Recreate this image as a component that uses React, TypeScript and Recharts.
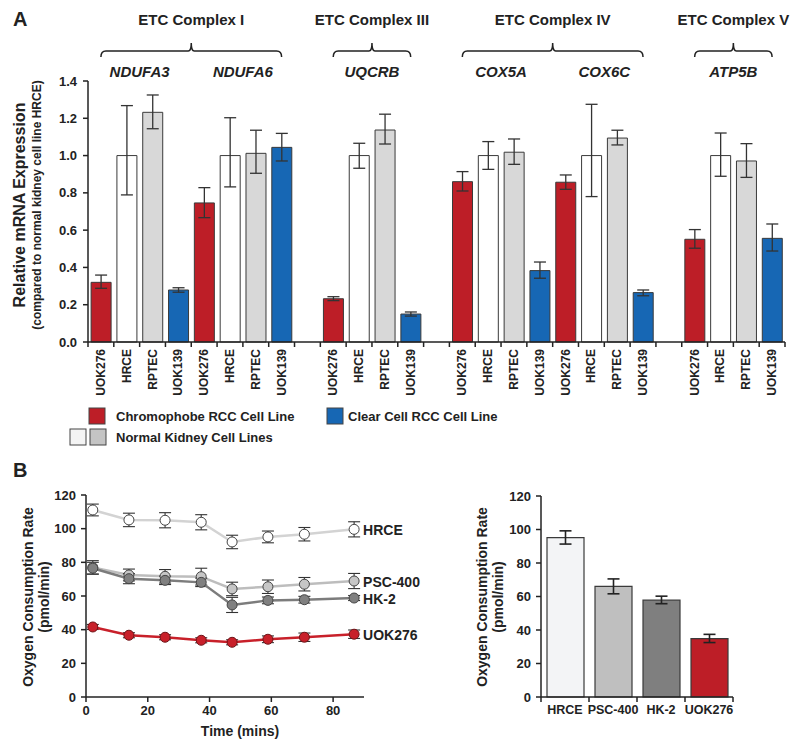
import React from "react";
import { Bar, BarChart, Cell, ErrorBar, Line, LineChart, XAxis, YAxis } from "recharts";

const FONT = "'Liberation Sans', Arial, Helvetica, sans-serif";
const INK = "#222";
const RED = "#bd1e27";
const BLUE = "#1767b4";
const LIGHT = "#d8d8d8";
const WHITE = "#ffffff";

// ---- Panel A: relative mRNA expression ----
const cellLines = ["UOK276", "HRCE", "RPTEC", "UOK139"];
const cellColors = [RED, WHITE, LIGHT, BLUE];
const genes = ["NDUFA3", "NDUFA6", "UQCRB", "COX5A", "COX6C", "ATP5B"];
const complexes = ["ETC Complex I", "ETC Complex III", "ETC Complex IV", "ETC Complex V"];
const genesPerComplex = [2, 1, 2, 1];

const uok276Mean = [0.32, 0.746, 0.232, 0.86, 0.857, 0.551];
const uok276Low = [0.288, 0.667, 0.222, 0.81, 0.819, 0.503];
const uok276High = [0.359, 0.828, 0.243, 0.914, 0.896, 0.603];
const hrceMean = [1.0, 1.0, 1.0, 1.0, 1.0, 1.0];
const hrceLow = [0.789, 0.832, 0.932, 0.926, 0.78, 0.889];
const hrceHigh = [1.268, 1.203, 1.066, 1.075, 1.275, 1.121];
const rptecMean = [1.232, 1.012, 1.137, 1.018, 1.094, 0.971];
const rptecLow = [1.144, 0.905, 1.062, 0.953, 1.057, 0.883];
const rptecHigh = [1.325, 1.136, 1.222, 1.089, 1.136, 1.064];
const uok139Mean = [0.279, 1.044, 0.15, 0.383, 0.265, 0.556];
const uok139Low = [0.267, 0.971, 0.139, 0.342, 0.248, 0.488];
const uok139High = [0.291, 1.119, 0.161, 0.429, 0.279, 0.633];

const exprTicks = [0, 0.2, 0.4, 0.6, 0.8, 1.0, 1.2, 1.4];

// ---- Panel B: oxygen consumption ----
const timeMins = [2.2, 13.9, 25.6, 37.3, 47.3, 58.9, 70.7, 86.8];
const hrceOcr = [111.1, 105.2, 105, 103.8, 92.1, 95.1, 96.7, 99.6];
const hrceOcrErr = [3.5, 4, 4.5, 4.5, 4, 3.5, 4, 4.5];
const pscOcr = [77, 72.5, 71.7, 71.5, 64.2, 65.5, 67, 68.9];
const pscOcrErr = [4, 3.5, 4, 5, 4, 4, 4, 4.5];
const hk2Ocr = [76.5, 70.3, 69.3, 68.1, 54.7, 57.4, 57.8, 58.8];
const hk2OcrErr = [3.5, 3, 2.5, 2.5, 4.5, 2, 2, 1.5];
const uokOcr = [41.6, 36.7, 35.5, 33.7, 32.5, 34.3, 35.5, 37.3];
const uokOcrErr = [1.5, 1.5, 1.5, 1.5, 1.5, 2, 2.5, 2.5];
const timeTicks = [0, 20, 40, 60, 80];
const ocrTicks = [0, 20, 40, 60, 80, 100, 120];

const basalLines = ["HRCE", "PSC-400", "HK-2", "UOK276"];
const basalMean = [95.2, 66.1, 57.8, 34.9];
const basalLow = [91.3, 61.6, 55.7, 32.5];
const basalHigh = [99.2, 70.5, 60.2, 37.4];
const basalColors = ["#f3f4f6", "#bfbfbf", "#7f7f7f", RED];

// table for panel A: one slot per bar, empty slot between complexes
const exprSeries = [
  [uok276Mean, uok276Low, uok276High],
  [hrceMean, hrceLow, hrceHigh],
  [rptecMean, rptecLow, rptecHigh],
  [uok139Mean, uok139Low, uok139High],
];
const exprData: any[] = [];
{
  let g = 0;
  genesPerComplex.forEach((n, ci) => {
    if (ci > 0) exprData.push({ name: `gap${ci}`, value: null, err: [0, 0], fill: "none" });
    for (let k = 0; k < n; k++, g++) {
      cellLines.forEach((line, li) => {
        const [m, lo, hi] = exprSeries[li];
        exprData.push({
          name: line,
          value: m[g],
          err: [m[g] - lo[g], hi[g] - m[g]],
          fill: cellColors[li],
        });
      });
    }
  });
}

const ocrData = timeMins.map((t, i) => ({
  t,
  hrce: hrceOcr[i],
  hrceErr: hrceOcrErr[i],
  psc: pscOcr[i],
  pscErr: pscOcrErr[i],
  hk2: hk2Ocr[i],
  hk2Err: hk2OcrErr[i],
  uok: uokOcr[i],
  uokErr: uokOcrErr[i],
}));

const basalData = basalLines.map((name, i) => ({
  name,
  value: basalMean[i],
  err: [basalMean[i] - basalLow[i], basalHigh[i] - basalMean[i]],
}));

// layout of panel A plot area
const A_LEFT = 88;
const A_RIGHT = 785;
const A_SLOT = (A_RIGHT - A_LEFT) / exprData.length;

const axisTick = { fill: INK, fontSize: 13, fontWeight: 700, fontFamily: FONT };
const axisLine = { stroke: INK, strokeWidth: 1.5 };

/** category tick with tick marks on slot boundaries */
function SlotTick(props: any) {
  const { x, y, payload, index, slot, count, rotated, fontSize } = props;
  const label = String(payload.value).startsWith("gap") ? "" : payload.value;
  const marks = [x - slot / 2];
  if (index === count - 1) marks.push(x + slot / 2);
  return (
    <g>
      {marks.map((mx, i) => (
        <line key={i} x1={mx} x2={mx} y1={y} y2={y + 5} stroke={INK} strokeWidth={1.5} />
      ))}
      {rotated ? (
        <text
          x={x}
          y={y + 7}
          transform={`rotate(-90 ${x} ${y + 7})`}
          textAnchor="end"
          dominantBaseline="central"
          fontSize={fontSize}
          fontWeight={700}
          fontFamily={FONT}
          fill={INK}
        >
          {label}
        </text>
      ) : (
        <text
          x={x}
          y={y + 17}
          textAnchor="middle"
          fontSize={fontSize}
          fontWeight={700}
          fontFamily={FONT}
          fill={INK}
        >
          {label}
        </text>
      )}
    </g>
  );
}

function endLabel(text: string, dy: number) {
  return (p: any) =>
    p.index === timeMins.length - 1 ? (
      <text
        x={p.x + 9}
        y={p.y + dy}
        dominantBaseline="central"
        fontSize={14}
        fontWeight={700}
        fontFamily={FONT}
        fill={INK}
      >
        {text}
      </text>
    ) : (
      <g />
    );
}

function Brace({ x1, x2 }: { x1: number; x2: number }) {
  const m = (x1 + x2) / 2;
  const y = 51;
  const d = `M${x1} ${y + 6} Q${x1} ${y} ${x1 + 5} ${y} L${m - 3} ${y} Q${m} ${y} ${m} ${y - 8} Q${m} ${y} ${m + 3} ${y} L${x2 - 5} ${y} Q${x2} ${y} ${x2} ${y + 6}`;
  return <path d={d} fill="none" stroke={INK} strokeWidth={1.5} />;
}

function Annotations() {
  const bold = { fontFamily: FONT, fontWeight: 700, fill: INK } as const;
  const slotCenter = (i: number) => A_LEFT + (i + 0.5) * A_SLOT;
  const items: React.ReactNode[] = [];
  let slot = 0;
  let g = 0;
  complexes.forEach((c, ci) => {
    const n = genesPerComplex[ci] * cellLines.length;
    const x1 = slotCenter(slot);
    const x2 = slotCenter(slot + n - 1);
    items.push(
      <text key={`c${ci}`} x={(x1 + x2) / 2} y={25} textAnchor="middle" fontSize={15} {...bold}>
        {c}
      </text>
    );
    items.push(<Brace key={`b${ci}`} x1={x1} x2={x2} />);
    for (let k = 0; k < genesPerComplex[ci]; k++, g++) {
      const gx = A_LEFT + (slot + k * 4 + 2) * A_SLOT;
      items.push(
        <text key={`g${g}`} x={gx} y={77} textAnchor="middle" fontSize={15} fontStyle="italic" {...bold}>
          {genes[g]}
        </text>
      );
    }
    slot += n + 1;
  });
  return (
    <svg
      width={800}
      height={746}
      style={{ position: "absolute", left: 0, top: 0, pointerEvents: "none" }}
    >
      <text x={13} y={26} fontSize={20} {...bold}>A</text>
      <text x={13} y={477} fontSize={20} {...bold}>B</text>
      {items}
      {/* panel A y title */}
      <text transform="translate(25 205) rotate(-90)" textAnchor="middle" fontSize={16} {...bold}>
        Relative mRNA Expression
      </text>
      <text transform="translate(41 205) rotate(-90)" textAnchor="middle" fontSize={12} {...bold}>
        (compared to normal kidney cell line HRCE)
      </text>
      {/* legend */}
      <rect x={89} y={408} width={16} height={16} fill={RED} stroke="#444" />
      <text x={116} y={421} fontSize={13} {...bold}>Chromophobe RCC Cell Line</text>
      <rect x={327} y={408} width={16} height={16} fill={BLUE} stroke="#444" />
      <text x={348} y={421} fontSize={13} {...bold}>Clear Cell RCC Cell Line</text>
      <rect x={70} y={429} width={16} height={16} fill="#f4f4f4" stroke="#444" />
      <rect x={90} y={429} width={16} height={16} fill="#c4c4c4" stroke="#444" />
      <text x={116} y={442} fontSize={13} {...bold}>Normal Kidney Cell Lines</text>
      {/* panel B y titles */}
      <text transform="translate(33 597) rotate(-90)" textAnchor="middle" fontSize={14} {...bold}>
        Oxygen Consumption Rate
      </text>
      <text transform="translate(49 597) rotate(-90)" textAnchor="middle" fontSize={14} {...bold}>
        (pmol/min)
      </text>
      <text x={240} y={736} textAnchor="middle" fontSize={14} {...bold}>Time (mins)</text>
      <text transform="translate(487 597) rotate(-90)" textAnchor="middle" fontSize={14} {...bold}>
        Oxygen Consumption Rate
      </text>
      <text transform="translate(503 597) rotate(-90)" textAnchor="middle" fontSize={14} {...bold}>
        (pmol/min)
      </text>
    </svg>
  );
}

export default function App() {
  return (
    <div
      style={{
        position: "absolute",
        left: 0,
        top: 0,
        width: 800,
        height: 746,
        background: "#fff",
        fontFamily: FONT,
      }}
    >
      {/* Panel A */}
      <div style={{ position: "absolute", left: 0, top: 0 }}>
        <BarChart
          width={800}
          height={400}
          data={exprData}
          margin={{ top: 81, right: 800 - A_RIGHT, left: A_LEFT - 40, bottom: 8 }}
          barCategoryGap="12%"
        >
          <XAxis
            dataKey="name"
            interval={0}
            height={50}
            tickSize={0}
            tickMargin={0}
            axisLine={axisLine}
            tick={(p: any) => (
              <SlotTick {...p} slot={A_SLOT} count={exprData.length} rotated fontSize={12} />
            )}
          />
          <YAxis
            width={40}
            domain={[0, 1.4]}
            ticks={exprTicks}
            tickFormatter={(v: number) => v.toFixed(1)}
            tick={axisTick}
            tickSize={5}
            tickMargin={6}
            axisLine={axisLine}
            tickLine={axisLine}
          />
          <Bar dataKey="value" stroke="#3a3a3a" strokeWidth={1} isAnimationActive={false}>
            {exprData.map((d, i) => (
              <Cell key={i} fill={d.fill} />
            ))}
            <ErrorBar dataKey="err" width={6} stroke="#333" strokeWidth={1.3} />
          </Bar>
        </BarChart>
      </div>

      {/* Panel B left: time course */}
      <div style={{ position: "absolute", left: 0, top: 440 }}>
        <LineChart
          width={460}
          height={306}
          data={ocrData}
          margin={{ top: 55, right: 96, left: 46, bottom: 0 }}
        >
          <XAxis
            dataKey="t"
            type="number"
            domain={[0, 90]}
            ticks={timeTicks}
            height={49}
            tick={axisTick}
            tickSize={5}
            tickMargin={4}
            axisLine={axisLine}
            tickLine={axisLine}
          />
          <YAxis
            width={40}
            domain={[0, 120]}
            ticks={ocrTicks}
            tick={axisTick}
            tickSize={5}
            tickMargin={5}
            axisLine={axisLine}
            tickLine={axisLine}
          />
          <Line
            dataKey="hrce"
            stroke="#d3d3d3"
            strokeWidth={2.5}
            dot={{ r: 5, fill: "#fff", stroke: "#444", strokeWidth: 1 }}
            label={endLabel("HRCE", 1)}
            isAnimationActive={false}
          >
            <ErrorBar dataKey="hrceErr" width={6} stroke="#333" strokeWidth={1.1} />
          </Line>
          <Line
            dataKey="psc"
            stroke="#bdbdbd"
            strokeWidth={2.5}
            dot={{ r: 5, fill: "#c6c6c6", stroke: "#444", strokeWidth: 1 }}
            label={endLabel("PSC-400", 1)}
            isAnimationActive={false}
          >
            <ErrorBar dataKey="pscErr" width={6} stroke="#333" strokeWidth={1.1} />
          </Line>
          <Line
            dataKey="hk2"
            stroke="#7c7c7c"
            strokeWidth={2.5}
            dot={{ r: 5, fill: "#808080", stroke: "#444", strokeWidth: 1 }}
            label={endLabel("HK-2", 1)}
            isAnimationActive={false}
          >
            <ErrorBar dataKey="hk2Err" width={6} stroke="#333" strokeWidth={1.1} />
          </Line>
          <Line
            dataKey="uok"
            stroke="#c8202a"
            strokeWidth={2.5}
            dot={{ r: 5, fill: "#c8202a", stroke: "#6e1216", strokeWidth: 1 }}
            label={endLabel("UOK276", 1)}
            isAnimationActive={false}
          >
            <ErrorBar dataKey="uokErr" width={6} stroke="#333" strokeWidth={1.1} />
          </Line>
        </LineChart>
      </div>

      {/* Panel B right: basal rate */}
      <div style={{ position: "absolute", left: 440, top: 440 }}>
        <BarChart
          width={360}
          height={306}
          data={basalData}
          margin={{ top: 56, right: 67, left: 61, bottom: 0 }}
          barSize={37}
        >
          <XAxis
            dataKey="name"
            interval={0}
            height={49}
            tickSize={0}
            tickMargin={0}
            axisLine={axisLine}
            tick={(p: any) => (
              <SlotTick {...p} slot={192 / basalData.length} count={basalData.length} fontSize={12.5} />
            )}
          />
          <YAxis
            width={40}
            domain={[0, 120]}
            ticks={ocrTicks}
            tick={axisTick}
            tickSize={5}
            tickMargin={5}
            axisLine={axisLine}
            tickLine={axisLine}
          />
          <Bar dataKey="value" stroke="#3a3a3a" strokeWidth={1.2} isAnimationActive={false}>
            {basalData.map((d, i) => (
              <Cell key={i} fill={basalColors[i]} />
            ))}
            <ErrorBar dataKey="err" width={6} stroke="#222" strokeWidth={1.6} />
          </Bar>
        </BarChart>
      </div>

      <Annotations />
    </div>
  );
}
